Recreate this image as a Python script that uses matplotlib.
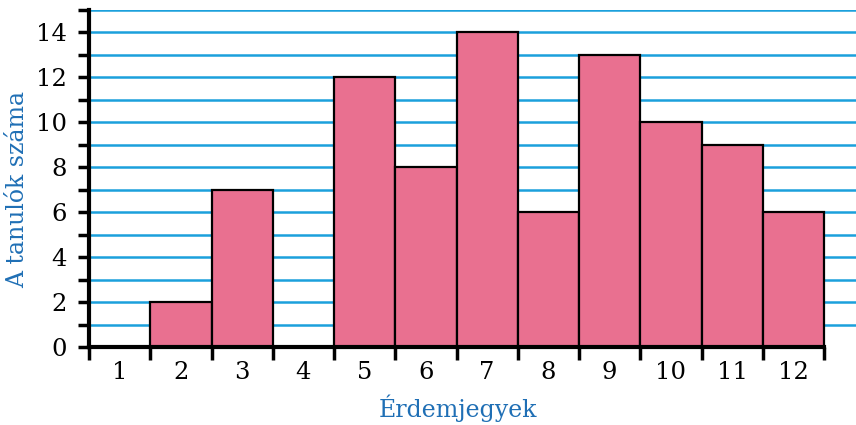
import matplotlib
matplotlib.use("Agg")
import matplotlib.pyplot as plt
from matplotlib.ticker import FixedLocator, NullFormatter

grades = [1, 2, 3, 4, 5, 6, 7, 8, 9, 10, 11, 12]
counts = [0, 2, 7, 0, 12, 8, 14, 6, 13, 10, 9, 6]
xlabel = "Érdemjegyek"
ylabel = "A tanulók száma"

plt.rcParams['font.family'] = 'DejaVu Serif'

W, H = 856, 425
fig = plt.figure(figsize=(W / 100, H / 100), dpi=100)
left, right, bottom, top = 89, 856, 347, 9.5
ax = fig.add_axes([left / W, 1 - bottom / H, (right - left) / W, (bottom - top) / H])

grid_color = "#1ba0dc"
bar_color = "#e97090"
label_color = "#1f6fb5"

# horizontal rulings at every unit
for v in range(1, 16):
    ax.axhline(v, color=grid_color, lw=1.8, zorder=0)

nonzero = [(g, c) for g, c in zip(grades, counts) if c > 0]
ax.bar([g for g, _ in nonzero], [c for _, c in nonzero], width=1.0,
       color=bar_color, edgecolor="black", linewidth=1.6, zorder=2)

xmax_axis = grades[-1] + 0.5
ax.set_xlim(grades[0] - 0.5, xmax_axis + (right - 824) / ((824 - left) / 12))
ax.set_ylim(0, 15)

for s in ["top", "right"]:
    ax.spines[s].set_visible(False)
ax.spines["bottom"].set_bounds(grades[0] - 0.5, xmax_axis)
ax.spines["bottom"].set_linewidth(3)
ax.spines["left"].set_linewidth(3)
ax.spines["bottom"].set_zorder(3)
ax.spines["left"].set_zorder(3)

# x: labels at bin centres, ticks at bin edges
ax.xaxis.set_major_locator(FixedLocator(grades))
ax.xaxis.set_minor_locator(FixedLocator([g - 0.5 for g in grades] + [xmax_axis]))
ax.set_xticklabels([str(g) for g in grades])
ax.tick_params(axis="x", which="major", length=0, pad=10, labelsize=17.5)
ax.tick_params(axis="x", which="minor", length=9, width=2.5, direction="out")

ax.yaxis.set_major_locator(FixedLocator(range(0, 15, 2)))
ax.yaxis.set_minor_locator(FixedLocator(range(1, 16, 2)))
ax.yaxis.set_minor_formatter(NullFormatter())
ax.tick_params(axis="y", which="major", length=8, width=2.5, pad=8, labelsize=17.5)
ax.tick_params(axis="y", which="minor", length=8, width=2.5)

fig.text(458 / W, 1 - 408 / H, xlabel, color=label_color, fontsize=17,
         ha="center", va="center")
fig.text(18 / W, 1 - 190 / H, ylabel, color=label_color, fontsize=17,
         ha="center", va="center", rotation=90)

fig.savefig("out.png", dpi=100)
